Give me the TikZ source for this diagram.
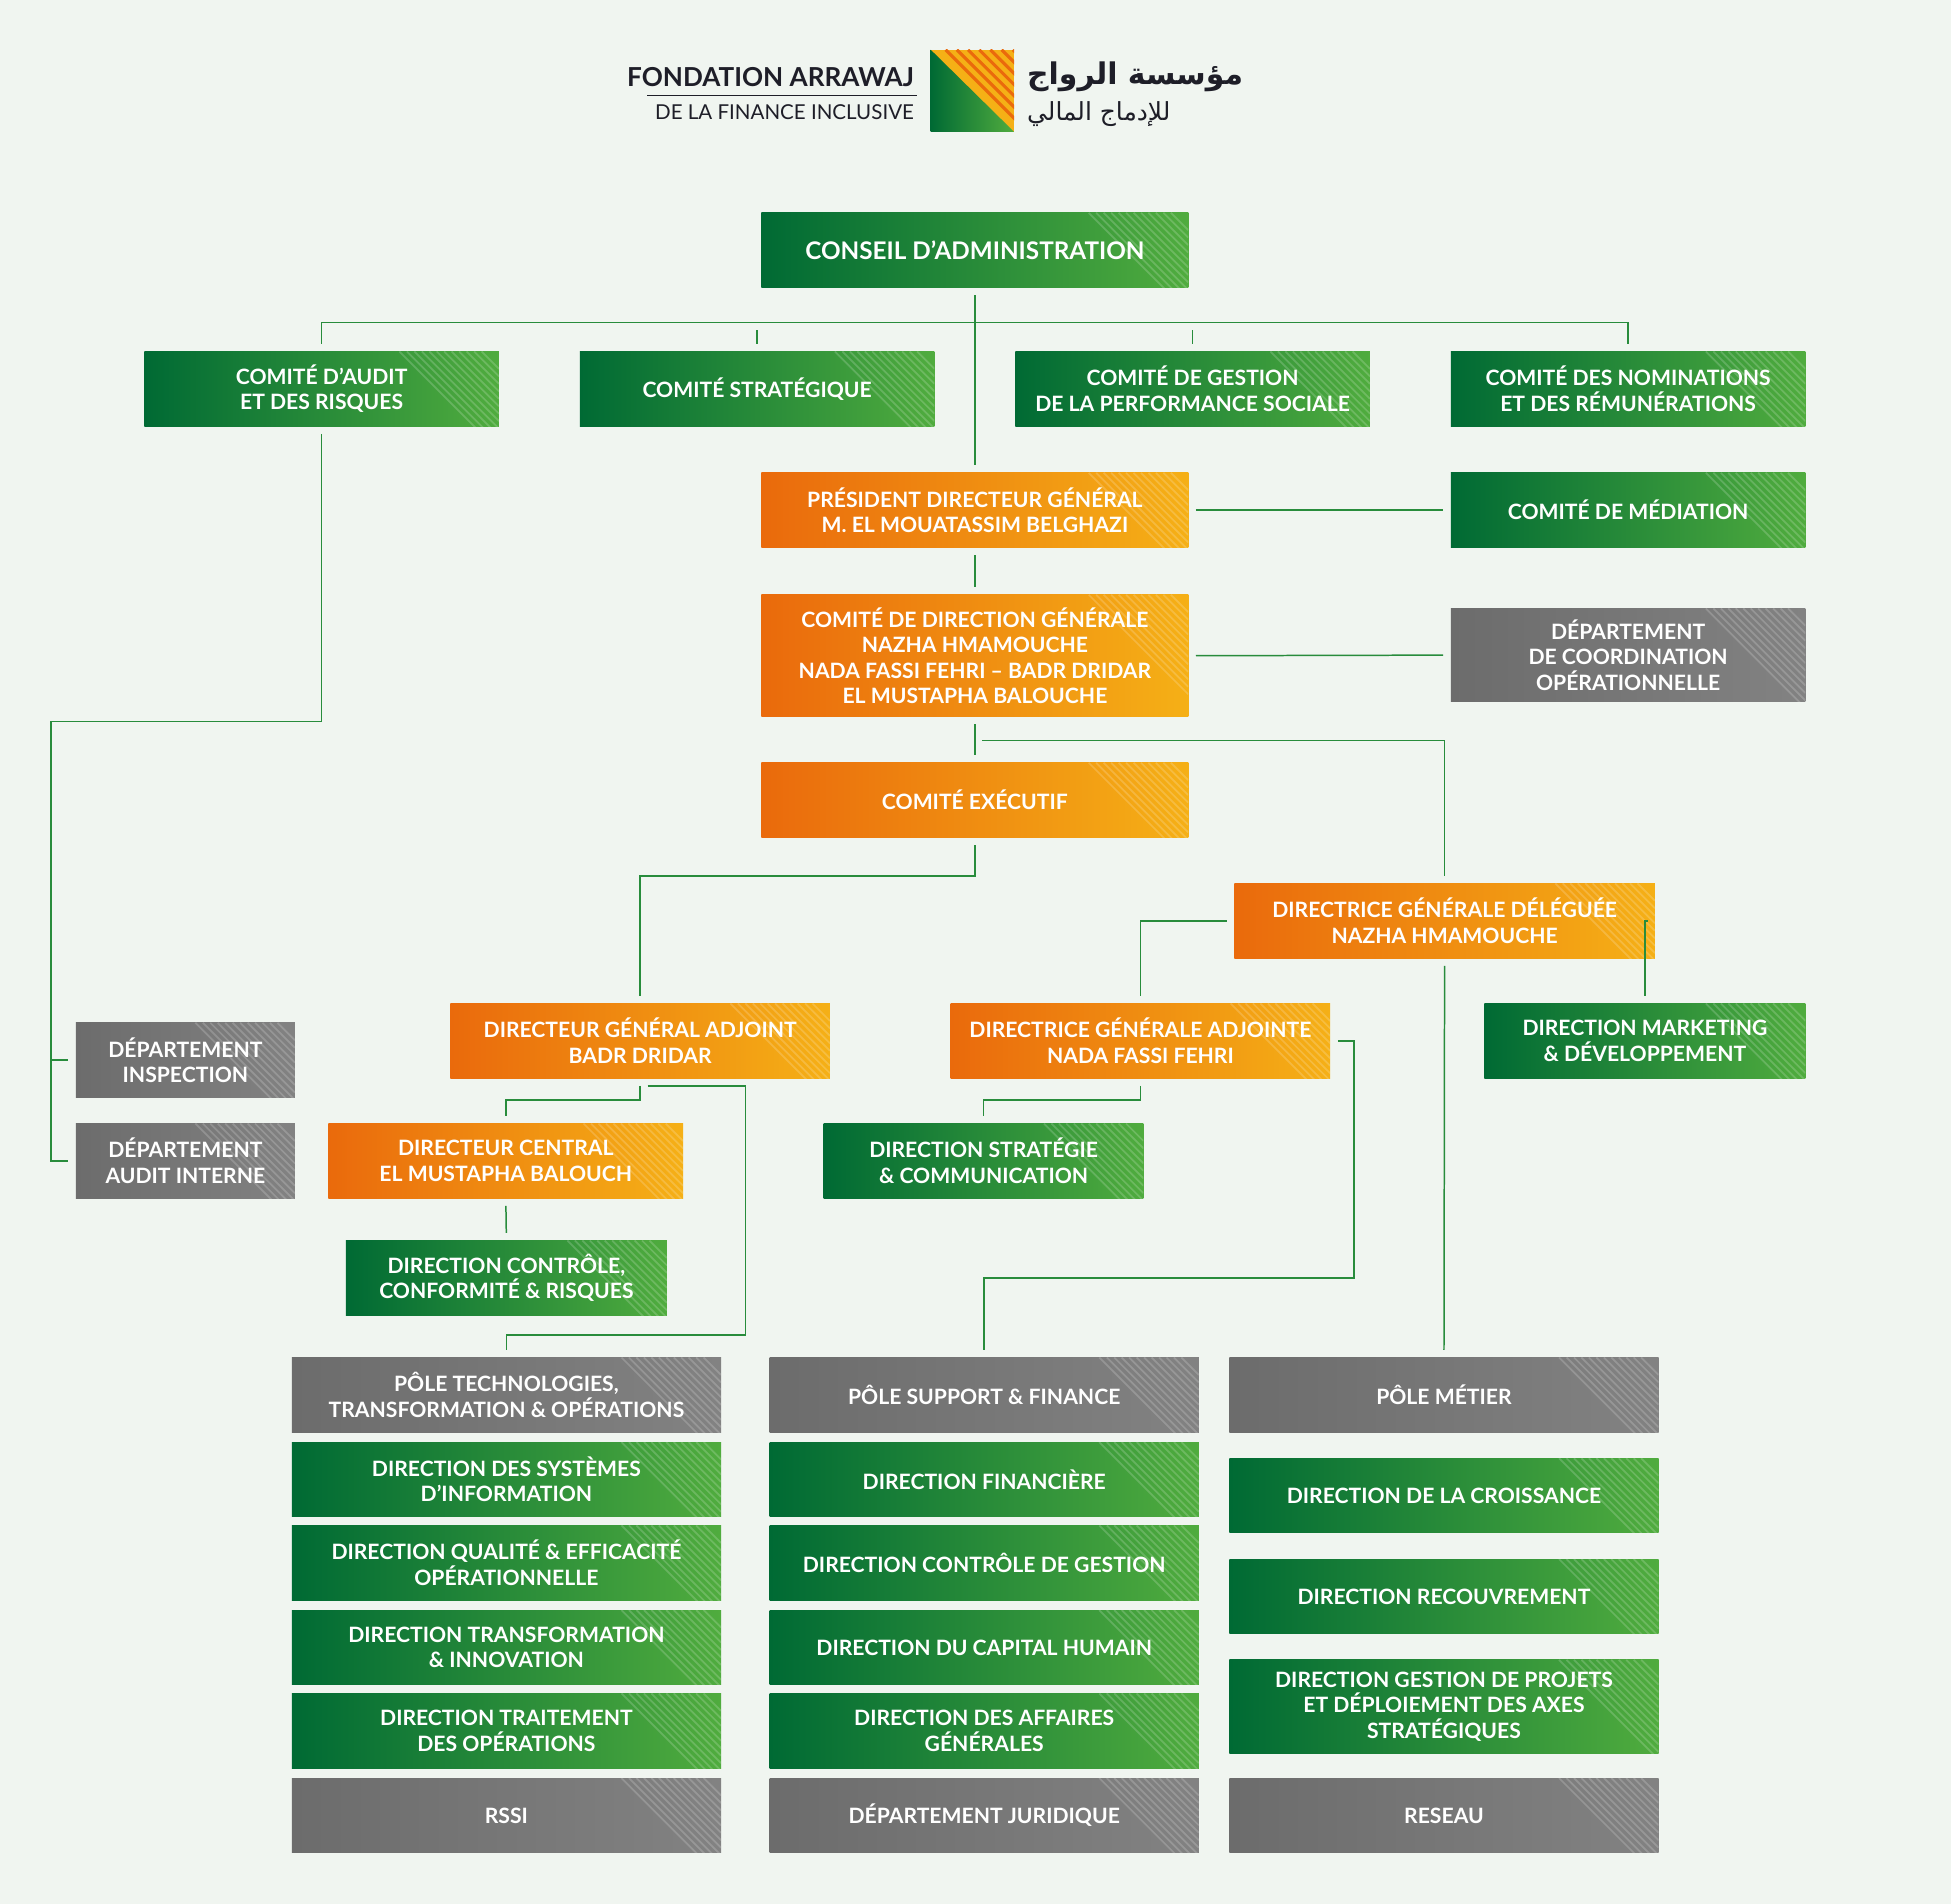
\documentclass[tikz,border=0pt]{standalone}
\usepackage{fontspec}
\setmainfont{Lato}
\newfontfamily\arabicfont[Script=Arabic]{DejaVu Sans}
\TeXXeTstate=1
\definecolor{bg}{RGB}{240,245,240}
\definecolor{gdark}{RGB}{0,106,52}
\definecolor{glight}{RGB}{80,172,62}
\definecolor{odark}{RGB}{234,106,12}
\definecolor{olight}{RGB}{245,176,22}
\definecolor{gray1}{RGB}{108,108,108}
\definecolor{gray2}{RGB}{130,130,130}
\definecolor{ll}{RGB}{40,140,60}
\definecolor{navy}{RGB}{30,30,40}
\tikzset{
  stripes/.style={path picture={\foreach \i in {14,20,...,80}
    \draw[white,opacity=0.18,line width=1.4pt] ([xshift=-\i pt]path picture bounding box.north east) -- ++(\i pt,-\i pt);}},
  box/.style={minimum width=345pt, minimum height=60pt, inner sep=2pt, align=center, text=white,
    font=\fontsize{17}{20.5}\selectfont\bfseries, stripes},
  gbox/.style={box, left color=gdark, right color=glight},
  obox/.style={box, left color=odark, right color=olight},
  ybox/.style={box, left color=gray1, right color=gray2},
  link/.style={draw=ll, line width=1.2pt, shorten <=6pt, shorten >=6pt},
  bus/.style={draw=ll, line width=1.2pt}
}
\begin{document}
\begin{tikzpicture}
\fill[bg] (0pt,0pt) rectangle (1568pt,-1530pt);
\useasboundingbox (0pt,0pt) rectangle (1568pt,-1530pt);
% logo
\begin{scope}
\clip (748pt,-40pt) rectangle (815pt,-106pt);
\fill[olight] (748pt,-40pt) rectangle (815pt,-106pt);
\shade[left color=gdark, right color=glight] (748pt,-40pt) -- (815pt,-106pt) -- (748pt,-106pt) -- cycle;
\foreach \i in {0,9,...,60}
  \draw[odark, line width=2.5pt] (760pt+\i pt,-40pt) -- ++(80pt,-80pt);
\end{scope}
\node (logoa) [anchor=east, text=navy, font=\fontsize{21}{24}\selectfont\bfseries] at (738pt,-62pt) {FONDATION ARRAWAJ};
\node (logob) [anchor=east, text=navy, font=\fontsize{16.5}{20}\selectfont] at (738pt,-90pt) {DE LA FINANCE INCLUSIVE};
\draw[navy, line width=0.6pt] (520pt,-77pt) -- (737pt,-77pt);
\node (logoc) [anchor=west, text=navy, font=\arabicfont\fontsize{24}{26}\selectfont\bfseries] at (822pt,-62pt) {\beginR مؤسسة الرواج\endR};
\node (logod) [anchor=west, text=navy, font=\arabicfont\fontsize{20}{22}\selectfont] at (822pt,-92pt) {\beginR للإدماج المالي\endR};
% top
\node (ca) [gbox, minimum width=343pt, font=\fontsize{19.5}{22}\selectfont\bfseries] at (783.5pt,-201pt) {CONSEIL D’ADMINISTRATION};
\node (audit) [gbox, minimum width=285pt] at (258.5pt,-312.5pt) {COMITÉ D’AUDIT\\ET DES RISQUES};
\node (strat) [gbox, minimum width=285pt] at (608.5pt,-312.5pt) {COMITÉ STRATÉGIQUE};
\node (gest) [gbox, minimum width=285pt] at (958.5pt,-312.5pt) {COMITÉ DE GESTION\\DE LA PERFORMANCE SOCIALE};
\node (nomin) [gbox, minimum width=285pt] at (1308.5pt,-312.5pt) {COMITÉ DES NOMINATIONS\\ET DES RÉMUNÉRATIONS};
\node (pdg) [obox, minimum width=343pt] at (783.5pt,-410pt) {PRÉSIDENT DIRECTEUR GÉNÉRAL\\M. EL MOUATASSIM BELGHAZI};
\node (medi) [gbox, minimum width=285pt] at (1308.5pt,-410pt) {COMITÉ DE MÉDIATION};
\node (cdg) [obox, minimum width=343pt, minimum height=98pt] at (783.5pt,-527pt) {COMITÉ DE DIRECTION GÉNÉRALE\\NAZHA HMAMOUCHE\\NADA FASSI FEHRI – BADR DRIDAR\\EL MUSTAPHA BALOUCHE};
\node (coord) [ybox, minimum width=285pt, minimum height=75pt] at (1308.5pt,-526.5pt) {DÉPARTEMENT\\DE COORDINATION\\OPÉRATIONNELLE};
\node (comex) [obox, minimum width=343pt] at (783.5pt,-643pt) {COMITÉ EXÉCUTIF};
% middle
\node (dgd) [obox, minimum width=338pt] at (1161pt,-740pt) {DIRECTRICE GÉNÉRALE DÉLÉGUÉE\\NAZHA HMAMOUCHE};
\node (dga) [obox, minimum width=305pt] at (514.5pt,-836.5pt) {DIRECTEUR GÉNÉRAL ADJOINT\\BADR DRIDAR};
\node (dgaf) [obox, minimum width=305pt] at (916.5pt,-836.5pt) {DIRECTRICE GÉNÉRALE ADJOINTE\\NADA FASSI FEHRI};
\node (mkt) [gbox, minimum width=258pt] at (1322pt,-836.5pt) {DIRECTION MARKETING\\\& DÉVELOPPEMENT};
\node (insp) [ybox, minimum width=176pt] at (149pt,-852pt) {DÉPARTEMENT\\INSPECTION};
\node (ainter) [ybox, minimum width=176pt] at (149pt,-933pt) {DÉPARTEMENT\\AUDIT INTERNE};
\node (dcen) [obox, minimum width=285pt] at (406.5pt,-933pt) {DIRECTEUR CENTRAL\\EL MUSTAPHA BALOUCH};
\node (dstrat) [gbox, minimum width=257pt] at (790.5pt,-933pt) {DIRECTION STRATÉGIE\\\& COMMUNICATION};
\node (dctrl) [gbox, minimum width=258pt] at (407pt,-1027pt) {DIRECTION CONTRÔLE,\\CONFORMITÉ \& RISQUES};
% column 1
\node (ptech) [ybox] at (407pt,-1121pt) {PÔLE TECHNOLOGIES,\\TRANSFORMATION \& OPÉRATIONS};
\node (dsi) [gbox] at (407pt,-1189pt) {DIRECTION DES SYSTÈMES\\D’INFORMATION};
\node (dqual) [gbox] at (407pt,-1256pt) {DIRECTION QUALITÉ \& EFFICACITÉ\\OPÉRATIONNELLE};
\node (dtrans) [gbox] at (407pt,-1324pt) {DIRECTION TRANSFORMATION\\\& INNOVATION};
\node (dtrait) [gbox] at (407pt,-1391pt) {DIRECTION TRAITEMENT\\DES OPÉRATIONS};
\node (rssi) [ybox] at (407pt,-1459pt) {RSSI};
% column 2
\node (psup) [ybox] at (791pt,-1121pt) {PÔLE SUPPORT \& FINANCE};
\node (dfin) [gbox] at (791pt,-1189pt) {DIRECTION FINANCIÈRE};
\node (dcg) [gbox] at (791pt,-1256pt) {DIRECTION CONTRÔLE DE GESTION};
\node (dch) [gbox] at (791pt,-1324pt) {DIRECTION DU CAPITAL HUMAIN};
\node (dag) [gbox] at (791pt,-1391pt) {DIRECTION DES AFFAIRES\\GÉNÉRALES};
\node (djur) [ybox] at (791pt,-1459pt) {DÉPARTEMENT JURIDIQUE};
% column 3
\node (pmet) [ybox] at (1160.5pt,-1121pt) {PÔLE MÉTIER};
\node (dcroi) [gbox] at (1160.5pt,-1202pt) {DIRECTION DE LA CROISSANCE};
\node (drec) [gbox] at (1160.5pt,-1283pt) {DIRECTION RECOUVREMENT};
\node (dproj) [gbox, minimum height=75pt] at (1160.5pt,-1371.5pt) {DIRECTION GESTION DE PROJETS\\ET DÉPLOIEMENT DES AXES\\STRATÉGIQUES};
\node (res) [ybox] at (1160.5pt,-1459pt) {RESEAU};
% connectors
\draw[link] (ca.south) -- (pdg.north);
\draw[link] (audit.north) -- ++(0,23pt) -| (nomin.north);
\draw[link] (strat.north) -- ++(0,23pt);
\draw[link] (gest.north) -- ++(0,23pt);
\coordinate (abend) at (41pt,-580pt);
\draw[link] (audit.south) |- (abend) |- (ainter.west);
\draw[bus] (41pt,-852pt) -- ([xshift=-6pt]insp.west);
\draw[link] (pdg.east) -- (medi.west);
\draw[link] (pdg.south) -- (cdg.north);
\draw[link] (cdg.east) -- (coord.west);
\draw[link] (cdg.south) -- (comex.north);
\draw[link] ([yshift=-19pt]cdg.south) -| (dgd.north);
\draw[link] (comex.south) |- (514.5pt,-704pt) -- (dga.north);
\draw[link] (dgd.west) -| (dgaf.north);
\draw[link] (dgd.east) -| (mkt.north);
\draw[link] (dgd.south) -- (pmet.north);
\draw[link] (dgaf.east) -| (1088pt,-1027pt) -| (psup.north);
\draw[link] (dgaf.south) |- (790.5pt,-884pt) -- (dstrat.north);
\draw[link] (dga.south) |- (406.5pt,-884pt) -- (dcen.north);
\draw[link] ([yshift=-6pt]dga.south) -| (599pt,-1073pt) -| (ptech.north);
\draw[link] (dcen.south) -- (dctrl.north);
\end{tikzpicture}
\end{document}
